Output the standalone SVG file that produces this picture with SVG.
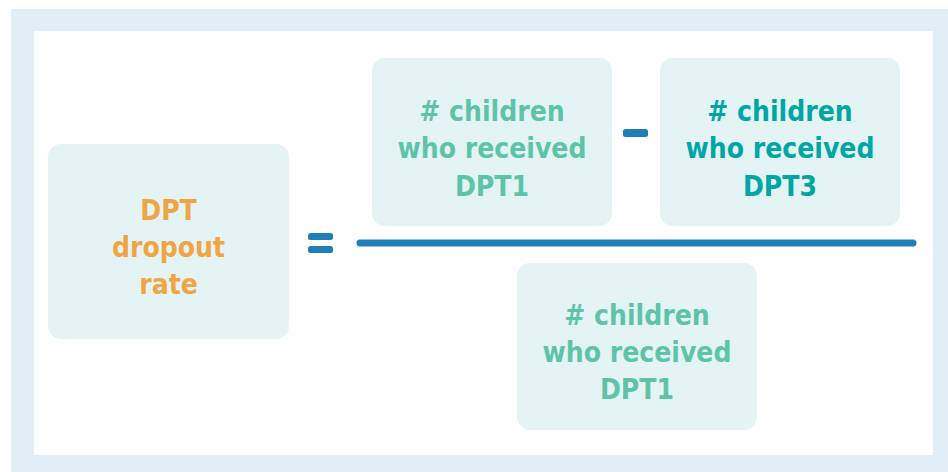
<svg xmlns="http://www.w3.org/2000/svg" width="948" height="472" viewBox="0 0 948 472">
<style>
.box{fill:#e4f4f4}
.t{font-family:"DejaVu Sans Condensed","DejaVu Sans",sans-serif;font-stretch:condensed;font-weight:bold;font-size:28px;text-anchor:middle}
.g{fill:#5ec4a8}
.d{fill:#00a6a6}
.o{fill:#f0a443}
.op{fill:#1f7fb8}
</style>
<rect x="11" y="9" width="937" height="463" fill="#e0eff6"/>
<rect x="34" y="31" width="899" height="424" fill="#ffffff"/>
<g id="lhs">
<rect class="box" x="48" y="144" width="241" height="195" rx="13"/>
<text class="t o" x="168.5" y="220">DPT</text>
<text class="t o" x="168.5" y="257">dropout</text>
<text class="t o" x="168.5" y="294">rate</text>
</g>
<g id="num1">
<rect class="box" x="372" y="58" width="240" height="168" rx="13"/>
<text class="t g" x="492" y="121"># children</text>
<text class="t g" x="492" y="158">who received</text>
<text class="t g" x="492" y="196">DPT1</text>
</g>
<g id="num2">
<rect class="box" x="660" y="58" width="240" height="168" rx="13"/>
<text class="t d" x="780" y="121"># children</text>
<text class="t d" x="780" y="158">who received</text>
<text class="t d" x="780" y="196">DPT3</text>
</g>
<g id="den">
<rect class="box" x="517" y="263" width="240" height="167" rx="13"/>
<text class="t g" x="637" y="325"># children</text>
<text class="t g" x="637" y="362">who received</text>
<text class="t g" x="637" y="399">DPT1</text>
</g>
<g id="operators">
<rect class="op" x="308" y="233" width="25" height="7" rx="2.5"/>
<rect class="op" x="308" y="246" width="25" height="7" rx="2.5"/>
<rect class="op" x="623" y="129" width="25" height="8" rx="2.5"/>
<line x1="360" y1="243" x2="913" y2="243" stroke="#1f7fb8" stroke-width="7" stroke-linecap="round"/>
</g>
</svg>
